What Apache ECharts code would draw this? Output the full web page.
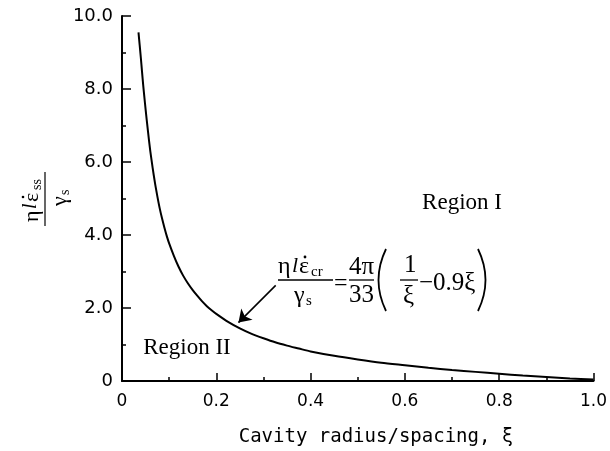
<!DOCTYPE html>
<html>
<head>
<meta charset="utf-8">
<script src="https://cdn.jsdelivr.net/npm/echarts@6/dist/echarts.min.js"></script>
<style>
html,body{margin:0;padding:0;background:#fff;}
#c{width:610px;height:451px;}
</style>
</head>
<body>
<div id="c"></div>
<script>
// Values
const xi = [0.035, 0.0375, 0.04, 0.0425, 0.045, 0.0475, 0.05, 0.055, 0.06, 0.065, 0.07, 0.075, 0.08, 0.085, 0.09, 0.095, 0.10, 0.11, 0.12, 0.13, 0.14, 0.15, 0.16, 0.17, 0.18, 0.19, 0.20, 0.225, 0.25, 0.275, 0.30, 0.325, 0.35, 0.375, 0.40, 0.45, 0.50, 0.55, 0.60, 0.65, 0.70, 0.75, 0.80, 0.85, 0.90, 0.95, 1.00];
const rate = [9.55, 9.20, 8.85, 8.47, 8.10, 7.77, 7.45, 6.85, 6.30, 5.84, 5.42, 5.06, 4.73, 4.45, 4.20, 3.97, 3.77, 3.43, 3.13, 2.88, 2.67, 2.49, 2.33, 2.18, 2.05, 1.94, 1.84, 1.62, 1.44, 1.29, 1.17, 1.06, 0.97, 0.89, 0.81, 0.69, 0.59, 0.50, 0.43, 0.36, 0.30, 0.25, 0.20, 0.15, 0.11, 0.07, 0.04];
const xTickLabels = {0: '0', 0.2: '0.2', 0.4: '0.4', 0.6: '0.6', 0.8: '0.8', 1: '1.0'};
const yTickLabels = {0: '0', 2: '2.0', 4: '4.0', 6: '6.0', 8: '8.0', 10: '10.0'};
const arrowFrom = [0.326, 2.62];
const arrowTo = [0.247, 1.60];

const chart = echarts.init(document.getElementById('c'), null, {renderer: 'canvas'});
const serif = 'Liberation Serif';
const ink = '#000';

function tx(x, y, text, size, opts) {
  opts = opts || {};
  return {
    type: 'text', x: x, y: y, silent: true,
    style: {
      text: text,
      font: (opts.italic ? 'italic ' : '') + size + 'px "' + (opts.family || serif) + '"',
      fill: ink,
      align: opts.align || 'left',
      verticalAlign: 'middle'
    }
  };
}
function ln(x1, y1, x2, y2, w) {
  return {type: 'line', silent: true, shape: {x1: x1, y1: y1, x2: x2, y2: y2}, style: {stroke: ink, lineWidth: w || 1.3}};
}
function dot(x, y, r) {
  return {type: 'circle', silent: true, shape: {cx: x, cy: y, r: r || 1.4}, style: {fill: ink}};
}

const eq = [
  tx(278, 267, 'η', 24),
  tx(292, 266, 'l', 22, {italic: true}),
  tx(299, 267, 'ε', 24),
  dot(305, 257),
  tx(311, 272, 'cr', 15),
  ln(278, 280, 333, 280),
  tx(294, 296, 'γ', 24),
  tx(306, 301, 's', 15),
  tx(334, 284, '=', 24),
  tx(349, 267, '4π', 25),
  ln(349, 280, 374, 280),
  tx(349, 295, '33', 25),
  {type: 'bezierCurve', silent: true, shape: {x1: 386, y1: 249, x2: 386, y2: 311, cpx1: 371, cpy1: 280}, style: {stroke: ink, lineWidth: 1.8, fill: null}},
  tx(404, 265, '1', 25),
  ln(400, 280, 418, 280),
  tx(403, 296, 'ξ', 25),
  tx(419, 283, '−0.9ξ', 25),
  {type: 'bezierCurve', silent: true, shape: {x1: 478, y1: 249, x2: 478, y2: 311, cpx1: 493, cpy1: 280}, style: {stroke: ink, lineWidth: 1.8, fill: null}}
];

const yTitle = {
  type: 'group', x: 45, y: 199, rotation: Math.PI / 2, silent: true,
  children: [
    tx(-23, -13, 'η', 22),
    tx(-10, -14, 'l', 20, {italic: true}),
    tx(-3, -13, 'ε', 22),
    dot(2, -22, 1.3),
    tx(9, -8, 'ss', 14),
    ln(-27, 0, 27, 0, 1.2),
    tx(-7, 15, 'γ', 22),
    tx(4, 20, 's', 14)
  ]
};

const regionI = tx(462, 203, 'Region I', 23, {align: 'center'});
const regionII = tx(187, 348, 'Region II', 23, {align: 'center'});
const xTitle = {
  type: 'text', x: 376, y: 437, silent: true,
  style: {text: 'Cavity radius/spacing, ξ', font: '19px "DejaVu Sans Mono"', fill: ink, align: 'center', verticalAlign: 'middle'}
};

chart.setOption({
  animation: false,
  backgroundColor: '#fff',
  grid: {left: 122, right: 12, top: 16, bottom: 70},
  xAxis: {
    type: 'value', min: 0, max: 1, interval: 0.2,
    axisLine: {lineStyle: {color: ink, width: 2}},
    axisTick: {inside: true, length: 8, lineStyle: {color: ink, width: 1.5}},
    minorTick: {show: true, splitNumber: 2, length: 4, lineStyle: {color: ink, width: 1.5}},
    splitLine: {show: false},
    axisLabel: {
      margin: 12, color: ink, fontFamily: 'DejaVu Sans', fontSize: 17,
      formatter: function (v) { const k = Math.round(v * 10) / 10; return xTickLabels[k] !== undefined ? xTickLabels[k] : ''; }
    }
  },
  yAxis: {
    type: 'value', min: 0, max: 10, interval: 2,
    axisLine: {lineStyle: {color: ink, width: 2}},
    axisTick: {inside: true, length: 9, lineStyle: {color: ink, width: 1.5}},
    minorTick: {show: true, splitNumber: 2, length: 4, lineStyle: {color: ink, width: 1.5}},
    splitLine: {show: false},
    axisLabel: {
      margin: 9, color: ink, fontFamily: 'DejaVu Sans', fontSize: 18,
      formatter: function (v) { return yTickLabels[Math.round(v)] || ''; }
    }
  },
  series: [{
    type: 'line',
    data: xi.map(function (x, i) { return [x, rate[i]]; }),
    smooth: 0.25,
    showSymbol: false, symbol: 'none',
    lineStyle: {color: ink, width: 2},
    markLine: {
      silent: true, animation: false,
      symbol: ['none', 'arrow'], symbolSize: 12,
      label: {show: false},
      lineStyle: {color: ink, width: 1.6, type: 'solid'},
      data: [[{coord: arrowFrom}, {coord: arrowTo}]]
    }
  }],
  graphic: [regionI, regionII, xTitle, yTitle].concat(eq)
});
</script>
</body>
</html>
